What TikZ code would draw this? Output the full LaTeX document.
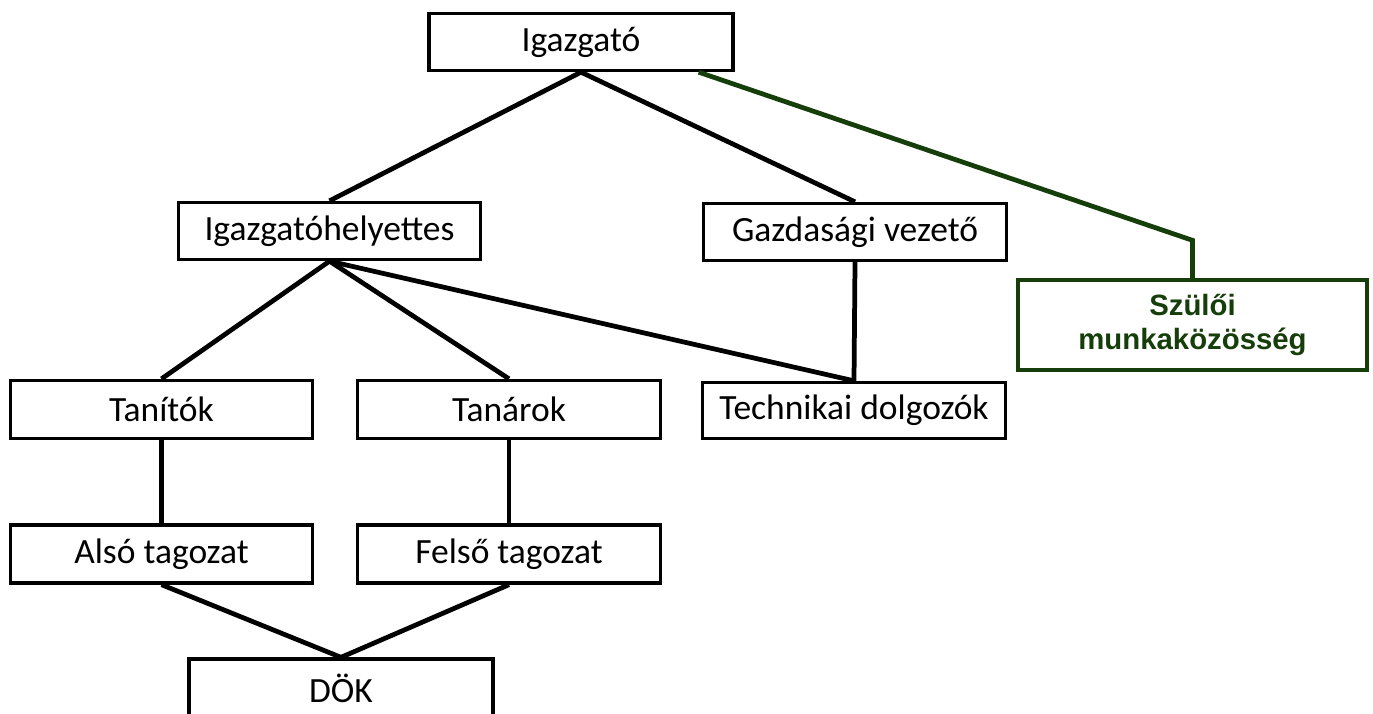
\documentclass[tikz,border=0pt]{standalone}
\usepackage{fontspec}
\setmainfont{Carlito}
\newfontfamily\armfont{Liberation Sans}
\usepackage{xcolor}
\usepackage{tikz}
\usetikzlibrary{positioning, calc}
\definecolor{cgreen}{RGB}{22, 62, 10}
\definecolor{cblack}{RGB}{0, 0, 0}

\begin{document}
\begin{tikzpicture}[
  font=\fontsize{20.2}{24}\selectfont,
  box/.style={rectangle, draw=cblack, line width=1.9pt, fill=white, minimum width=6.05cm, minimum height=1.14cm, inner sep=0pt, text centered},
  greenbox/.style={rectangle, draw=cgreen, line width=1.9pt, fill=white, minimum width=6.98cm, minimum height=1.8cm, inner sep=0pt, align=center, text=cgreen, font=\armfont\bfseries\fontsize{16.7}{19.5}\selectfont},
  line/.style={line width=2.7pt, color=cblack},
  greenline/.style={line width=2.7pt, color=cgreen},
]
\useasboundingbox (0, 0) rectangle (27.46, -14.26);

% ---- Top ----
\node[box, minimum width=6.08cm] (igazgato) at (11.62, -0.84) {Igazgató};

% ---- Second row ----
\node[box] (helyettes) at (6.59, -4.62) {Igazgatóhelyettes};
\node[box] (gazdasagi) at (17.10, -4.64) {Gazdasági vezető};

% Parents' association
\node[greenbox] (szuloi) at (23.85, -6.50) {Szülői\\munkaközösség};

% ---- Third row ----
\node[box, minimum height=1.16cm] (tanitok) at (3.23, -8.19) {Tanítók};
\node[box, minimum height=1.16cm] (tanarok) at (10.18, -8.19) {Tanárok};
\node[box, minimum height=1.12cm] (technikai) at (17.08, -8.21) {Technikai dolgozók};

% ---- Fourth row ----
\node[box, minimum height=1.16cm] (also) at (3.23, -11.08) {Alsó tagozat};
\node[box, minimum height=1.16cm] (felso) at (10.18, -11.08) {Felső tagozat};

% ---- Bottom (cut by the page) ----
\node[box, minimum width=6.08cm, minimum height=1.16cm] (dok) at (6.82, -13.76) {DÖK};

% ---- Connectors ----
\draw[line] (igazgato.south) -- (helyettes.north);
\draw[line] (igazgato.south) -- (gazdasagi.north);
\draw[line] (helyettes.south) -- (tanitok.north);
\draw[line] (helyettes.south) -- (tanarok.north);
\draw[line] (helyettes.south) -- (technikai.north);
\draw[line] (gazdasagi.south) -- (technikai.north);
\draw[line] (tanitok.south) -- (also.north);
\draw[line] (tanarok.south) -- (felso.north);
\draw[line] (also.south) -- (dok.north);
\draw[line] (felso.south) -- (dok.north);

% ---- Green link ----
\draw[greenline] ($(igazgato.south east)+(-0.72,0)$) -- ($(szuloi.north)+(0,0.76)$) -- (szuloi.north);

\end{tikzpicture}
\end{document}
